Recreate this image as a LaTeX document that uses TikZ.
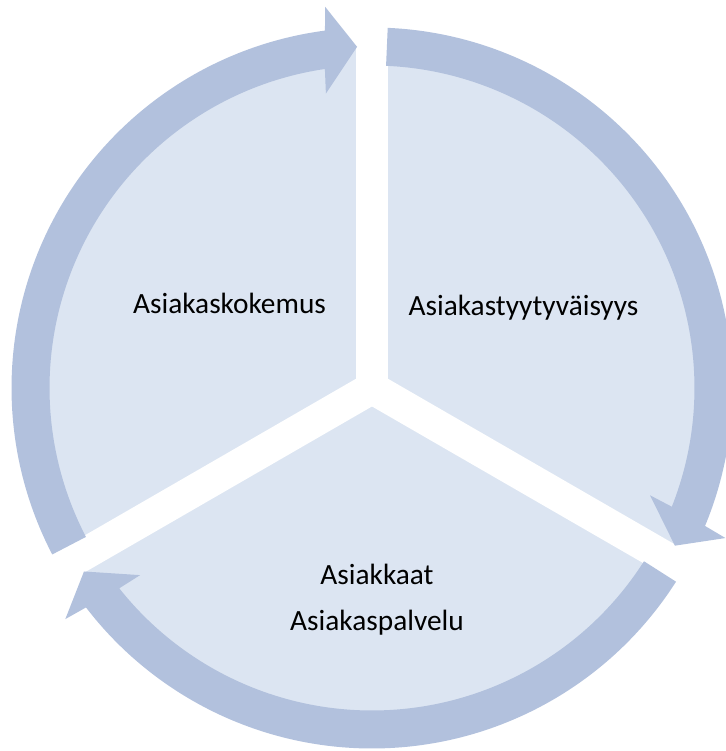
\documentclass[tikz,border=0pt]{standalone}
\usepackage{fontspec}
\setmainfont{Carlito}
\usetikzlibrary{positioning}
\definecolor{ringblue}{RGB}{178,193,221}
\definecolor{sectorblue}{RGB}{220,229,242}

\begin{document}
\begin{tikzpicture}[x=0.02cm, y=0.02cm,
            sector/.style ={fill=sectorblue},
            separador/.style ={fill=white},
            cyclearrow/.style ={fill=ringblue},
            txt/.style ={text=black, font=\fontsize{16.7}{20}\selectfont, anchor=base, inner sep=0pt}]

        % marco del dibujo
        \useasboundingbox (-372,-363) rectangle (354,388);

        % los tres sectores
        \path[sector] (0,0) circle (341);
        \foreach \a in {90,210,330}
            \path[separador, rotate=\a] (0,-16) rectangle (400,16);

        % flechas del ciclo (sentido horario)
        \foreach \r in {0,120,240}{
            \pgfmathsetmacro{\ini}{87.5-\r}
            \pgfmathsetmacro{\tip}{-27.5-\r}
            \path[cyclearrow] (\ini:360.5) arc [start angle=\ini, end angle=\tip+5, radius=360.5]
                -- (\tip+4.5:384) -- (\tip:341.5) -- (\tip+6.4:298) -- (\tip+5.9:322.5)
                arc [start angle=\tip+5.9, end angle=\ini, radius=322.5] -- cycle;
        }

        \node[txt] (kokemus) at (-142.5,75) {Asiakaskokemus};
        \node[txt] (tyytyvaisyys) at (151.5,73) {Asiakastyytyväisyys};
        \node[txt] (asiakkaat) at (5,-196) {Asiakkaat};
        \node[txt] (palvelu) at (5,-242) {Asiakaspalvelu};

    \end{tikzpicture}
\end{document}
